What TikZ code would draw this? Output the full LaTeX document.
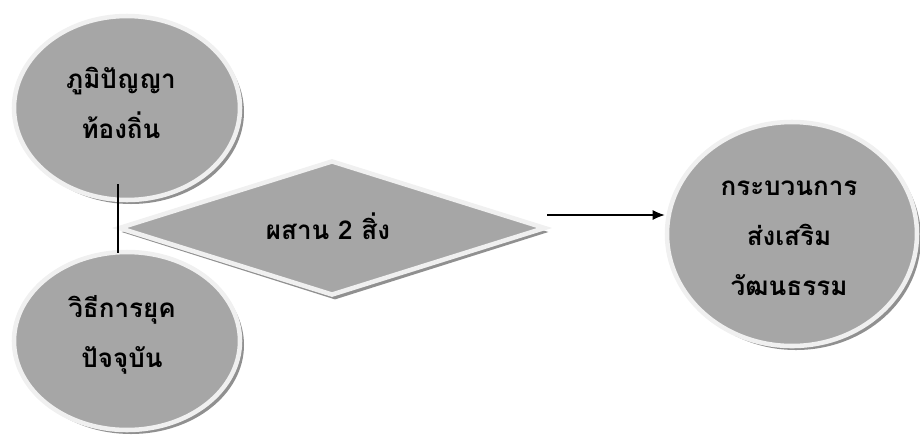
\documentclass[tikz,border=0pt]{standalone}
\usepackage{fontspec}
\newfontfamily\thaifont[Script=Thai]{Loma}
\usetikzlibrary{shapes.geometric,arrows.meta}
\definecolor{fillgray}{HTML}{A6A6A6}
\definecolor{ringgray}{HTML}{F0F0F0}
\definecolor{shadowgray}{HTML}{909090}
\tikzset{
  blob/.style={ellipse, fill=fillgray, draw=ringgray, line width=3.4pt, inner sep=0pt},
  blobshadow/.style={ellipse, fill=shadowgray, draw=none, inner sep=0pt},
  dia/.style={diamond, fill=fillgray, draw=ringgray, line width=3.4pt, inner sep=0pt},
  diashadow/.style={diamond, fill=shadowgray, draw=none, inner sep=0pt},
  lbl/.style={font=\thaifont\bfseries\fontsize{19.5}{37.5}\selectfont, align=center, text=black},
  conn/.style={line width=0.9pt, black}
}
\begin{document}
\begin{tikzpicture}[x=0.75pt, y=-0.75pt]
\useasboundingbox (0,0) rectangle (920,440);
% shadows
\node[blobshadow, minimum width=226*0.75pt, minimum height=184*0.75pt] at (131,112) {};
\node[blobshadow, minimum width=226*0.75pt, minimum height=178*0.75pt] at (131,345) {};
\node[diashadow, minimum width=427*0.75pt, minimum height=135*0.75pt] at (335,232) {};
\node[blobshadow, minimum width=250*0.75pt, minimum height=224*0.75pt] at (796,238) {};
% shapes
\node[blob, minimum width=226*0.75pt, minimum height=184*0.75pt] (n1) at (127,108) {};
\node[blob, minimum width=226*0.75pt, minimum height=178*0.75pt] (n2) at (127,341) {};
\node[dia, minimum width=427*0.75pt, minimum height=135*0.75pt] (d) at (332,228) {};
\node[blob, minimum width=250*0.75pt, minimum height=224*0.75pt] (n3) at (792,234) {};
% labels
\node[lbl] (t1) at (121,103) {ภูมิปัญญา\\ท้องถิ่น};
\node[lbl] (t2) at (122,335) {วิธีการยุค\\ปัจจุบัน};
\node[lbl] (t3) at (328,226) {ผสาน 2 สิ่ง};
\node[lbl] (t4) at (789,238) {กระบวนการ\\ส่งเสริม\\วัฒนธรรม};
% connectors
\coordinate (v1) at (118,184);
\coordinate (v2) at (118,253);
\draw[conn] (v1) -- (v2);
\coordinate (a1) at (547,215);
\draw[conn, -{Latex[length=9pt,width=7.5pt]}] (a1) -- (n3.west |- a1);
\end{tikzpicture}
\end{document}
